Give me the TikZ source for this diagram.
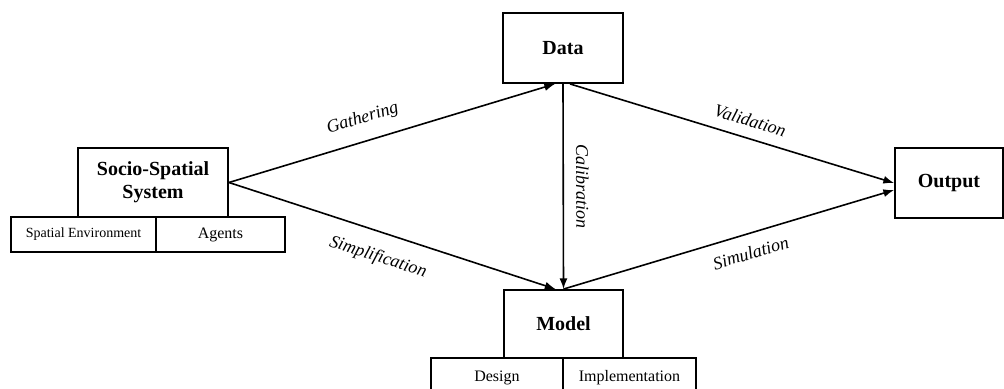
\documentclass[tikz,border=0pt]{standalone}
\usepackage{fontspec}
\setmainfont{Liberation Serif}
\usetikzlibrary{arrows.meta,calc}
\begin{document}
\begin{tikzpicture}[x=0.75pt,y=-0.75pt,
  box/.style={draw,line width=1.4pt,inner sep=0pt,align=center,font=\fontsize{15}{17}\selectfont\bfseries},
  sub/.style={draw,line width=1.4pt,inner sep=0pt,font=\fontsize{12}{14}\selectfont},
  arr/.style={line width=1.2pt,-{Latex[length=8pt,width=6pt]}},
  lbl/.style={font=\fontsize{13.5}{15}\selectfont\itshape,inner sep=2pt}]
\useasboundingbox (0,0) rectangle (1004,389);
\node[box,minimum width=90pt,minimum height=52.5pt] (data) at (563,48) {Data};
\node[box,minimum width=112.5pt,minimum height=51.75pt] (socio) at (153,182.5) {Socio-Spatial\\System};
\node[box,minimum width=81pt,minimum height=52.5pt] (output) at (949,183) {Output};
\node[box,minimum width=89.25pt,minimum height=51pt] (model) at (563.5,324) {Model};
\node[sub,minimum width=108.75pt,minimum height=26.25pt,font=\fontsize{10.5}{12}\selectfont] (env) at (83.5,234.5) {Spatial Environment};
\node[sub,minimum width=96.75pt,minimum height=26.25pt] (agents) at (220.5,234.5) {Agents};
\node[sub,minimum width=99pt,minimum height=24pt] (design) at (497,374) {};
\node[sub,minimum width=99.75pt,minimum height=24pt] (impl) at (629.5,374) {};
\node[font=\fontsize{12}{14}\selectfont,inner sep=0pt] (designtxt) at (497,378) {Design};
\node[font=\fontsize{12}{14}\selectfont,inner sep=0pt] (impltxt) at (629.5,378) {Implementation};
\draw[arr] (socio.east) -- ($(data.south)+(-8,0)$) node[lbl,pos=0.43,sloped,above=8pt] {Gathering};
\draw[arr] (data.south) -- (model.north) node[lbl,midway,sloped,above=7pt] {Calibration};
\draw[arr] ($(data.south)+(7,0)$) -- (output.west) node[lbl,pos=0.54,sloped,above=6pt] {Validation};
\draw[arr] (socio.east) -- ($(model.north)+(-8,0)$) node[lbl,pos=0.48,sloped,below=10pt] {Simplification};
\draw[arr] (model.north) -- ($(output.west)+(0,7)$) node[lbl,pos=0.55,sloped,below=7pt] {Simulation};
\end{tikzpicture}
\end{document}
